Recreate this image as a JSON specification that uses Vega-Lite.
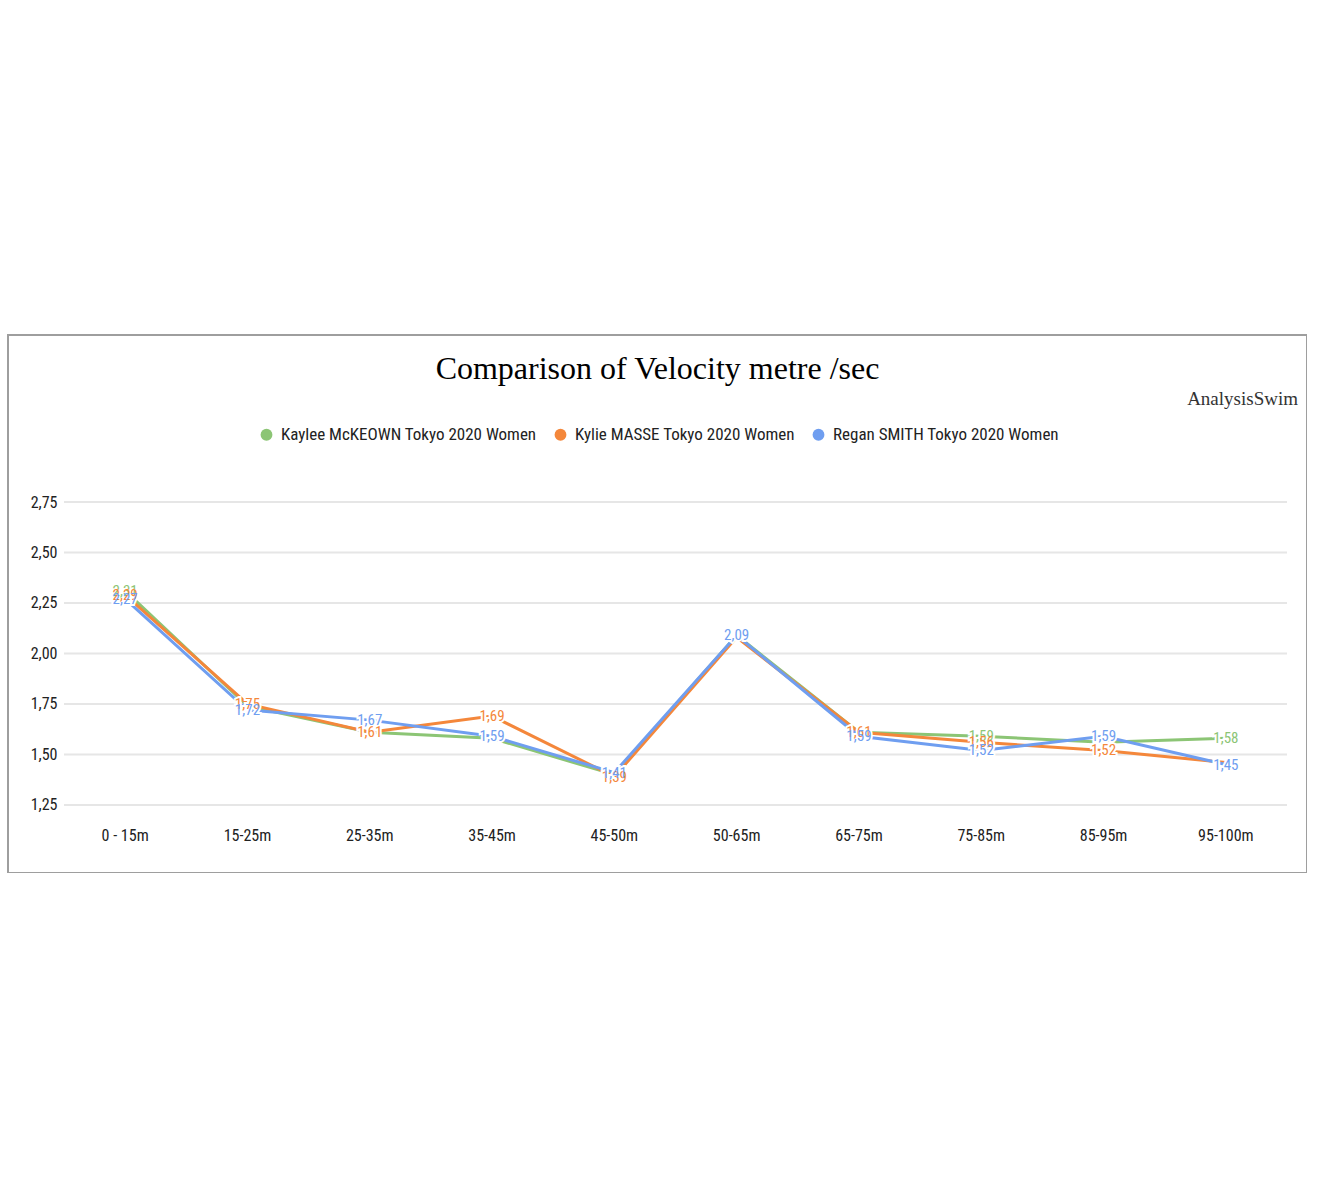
{
  "$schema": "https://vega.github.io/schema/vega-lite/v6.json",
  "description": "Comparison of Velocity metre /sec",
  "width": 1299,
  "height": 538,
  "autosize": "none",
  "padding": {"left": 8, "top": 335, "right": 0, "bottom": 0},
  "background": "white",
  "title": {
    "text": "Comparison of Velocity metre /sec",
    "font": "Liberation Serif",
    "fontSize": 32,
    "fontWeight": "normal",
    "color": "#000000",
    "anchor": "middle",
    "frame": "group",
    "baseline": "alphabetic",
    "offset": -76
  },
  "datasets": {
    "velocity": [
      {"segment": "0 - 15m", "swimmer": "Kaylee McKEOWN Tokyo 2020 Women", "velocity": 2.31, "labelled": true},
      {"segment": "15-25m", "swimmer": "Kaylee McKEOWN Tokyo 2020 Women", "velocity": 1.74, "labelled": false},
      {"segment": "25-35m", "swimmer": "Kaylee McKEOWN Tokyo 2020 Women", "velocity": 1.61, "labelled": false},
      {"segment": "35-45m", "swimmer": "Kaylee McKEOWN Tokyo 2020 Women", "velocity": 1.58, "labelled": false},
      {"segment": "45-50m", "swimmer": "Kaylee McKEOWN Tokyo 2020 Women", "velocity": 1.4, "labelled": false},
      {"segment": "50-65m", "swimmer": "Kaylee McKEOWN Tokyo 2020 Women", "velocity": 2.09, "labelled": false},
      {"segment": "65-75m", "swimmer": "Kaylee McKEOWN Tokyo 2020 Women", "velocity": 1.61, "labelled": false},
      {"segment": "75-85m", "swimmer": "Kaylee McKEOWN Tokyo 2020 Women", "velocity": 1.59, "labelled": true},
      {"segment": "85-95m", "swimmer": "Kaylee McKEOWN Tokyo 2020 Women", "velocity": 1.56, "labelled": false},
      {"segment": "95-100m", "swimmer": "Kaylee McKEOWN Tokyo 2020 Women", "velocity": 1.58, "labelled": true},
      {"segment": "0 - 15m", "swimmer": "Kylie MASSE Tokyo 2020 Women", "velocity": 2.29, "labelled": true},
      {"segment": "15-25m", "swimmer": "Kylie MASSE Tokyo 2020 Women", "velocity": 1.75, "labelled": true},
      {"segment": "25-35m", "swimmer": "Kylie MASSE Tokyo 2020 Women", "velocity": 1.61, "labelled": true},
      {"segment": "35-45m", "swimmer": "Kylie MASSE Tokyo 2020 Women", "velocity": 1.69, "labelled": true},
      {"segment": "45-50m", "swimmer": "Kylie MASSE Tokyo 2020 Women", "velocity": 1.39, "labelled": true},
      {"segment": "50-65m", "swimmer": "Kylie MASSE Tokyo 2020 Women", "velocity": 2.08, "labelled": false},
      {"segment": "65-75m", "swimmer": "Kylie MASSE Tokyo 2020 Women", "velocity": 1.61, "labelled": true},
      {"segment": "75-85m", "swimmer": "Kylie MASSE Tokyo 2020 Women", "velocity": 1.56, "labelled": true},
      {"segment": "85-95m", "swimmer": "Kylie MASSE Tokyo 2020 Women", "velocity": 1.52, "labelled": true},
      {"segment": "95-100m", "swimmer": "Kylie MASSE Tokyo 2020 Women", "velocity": 1.46, "labelled": false},
      {"segment": "0 - 15m", "swimmer": "Regan SMITH Tokyo 2020 Women", "velocity": 2.27, "labelled": true},
      {"segment": "15-25m", "swimmer": "Regan SMITH Tokyo 2020 Women", "velocity": 1.72, "labelled": true},
      {"segment": "25-35m", "swimmer": "Regan SMITH Tokyo 2020 Women", "velocity": 1.67, "labelled": true},
      {"segment": "35-45m", "swimmer": "Regan SMITH Tokyo 2020 Women", "velocity": 1.59, "labelled": true},
      {"segment": "45-50m", "swimmer": "Regan SMITH Tokyo 2020 Women", "velocity": 1.41, "labelled": true},
      {"segment": "50-65m", "swimmer": "Regan SMITH Tokyo 2020 Women", "velocity": 2.09, "labelled": true},
      {"segment": "65-75m", "swimmer": "Regan SMITH Tokyo 2020 Women", "velocity": 1.59, "labelled": true},
      {"segment": "75-85m", "swimmer": "Regan SMITH Tokyo 2020 Women", "velocity": 1.52, "labelled": true},
      {"segment": "85-95m", "swimmer": "Regan SMITH Tokyo 2020 Women", "velocity": 1.59, "labelled": true},
      {"segment": "95-100m", "swimmer": "Regan SMITH Tokyo 2020 Women", "velocity": 1.45, "labelled": true}
    ],
    "grid": [
      {"tick": 1.25}, {"tick": 1.5}, {"tick": 1.75}, {"tick": 2.0},
      {"tick": 2.25}, {"tick": 2.5}, {"tick": 2.75}
    ],
    "brand": [
      {"name": "AnalysisSwim", "segment": "95-100m", "level": 3.23}
    ]
  },
  "layer": [
    {
      "data": {"name": "grid"},
      "mark": {"type": "rule", "color": "#e6e6e6", "strokeWidth": 2},
      "encoding": {
        "x": {"datum": "0 - 15m", "bandPosition": 0, "type": "ordinal"},
        "x2": {"datum": "95-100m", "bandPosition": 1},
        "y": {
          "field": "tick",
          "type": "quantitative",
          "scale": {"domain": [0.913, 3.577], "zero": false, "nice": false},
          "axis": {
            "title": null,
            "values": [1.25, 1.5, 1.75, 2.0, 2.25, 2.5, 2.75],
            "format": ".2f",
            "offset": -51,
            "ticks": false,
            "domain": false,
            "grid": false,
            "labelPadding": 2,
            "labelFont": "'Liberation Sans Narrow', 'Roboto Condensed', 'DejaVu Sans Condensed', sans-serif",
            "labelFontSize": 16,
            "labelColor": "#222222"
          }
        }
      }
    },
    {
      "data": {"name": "velocity"},
      "mark": {"type": "line", "strokeWidth": 3},
      "encoding": {
        "x": {
          "field": "segment",
          "type": "ordinal",
          "bandPosition": 0.5,
          "scale": {
            "type": "band",
            "domain": ["0 - 15m", "15-25m", "25-35m", "35-45m", "45-50m", "50-65m", "65-75m", "75-85m", "85-95m", "95-100m"],
            "range": [56, 1279],
            "paddingInner": 0,
            "paddingOuter": 0
          },
          "axis": {
            "title": null,
            "orient": "bottom",
            "offset": -38,
            "labelAngle": 0,
            "labelAlign": "center",
            "bandPosition": 0.5,
            "ticks": false,
            "domain": false,
            "grid": false,
            "labelPadding": 0,
            "labelFont": "'Liberation Sans Narrow', 'Roboto Condensed', 'DejaVu Sans Condensed', sans-serif",
            "labelFontSize": 16,
            "labelColor": "#222222"
          }
        },
        "y": {
          "field": "velocity",
          "type": "quantitative",
          "title": null
        },
        "color": {
          "field": "swimmer",
          "type": "nominal",
          "scale": {
            "domain": ["Kaylee McKEOWN Tokyo 2020 Women", "Kylie MASSE Tokyo 2020 Women", "Regan SMITH Tokyo 2020 Women"],
            "range": ["#8cc575", "#f4873b", "#6f9ef0"]
          },
          "legend": {
            "title": null,
            "orient": "none",
            "direction": "horizontal",
            "legendX": 250,
            "legendY": 91,
            "symbolType": "circle",
            "symbolSize": 140,
            "symbolStrokeWidth": 0,
            "labelFont": "'Liberation Sans Narrow', 'Roboto Condensed', 'DejaVu Sans Condensed', sans-serif",
            "labelFontSize": 17,
            "labelColor": "#222222",
            "labelOffset": 6,
            "labelLimit": 400,
            "columnPadding": 15
          }
        }
      }
    },
    {
      "data": {"name": "velocity"},
      "transform": [{"filter": "datum.labelled"}],
      "mark": {
        "type": "text",
        "font": "'Liberation Sans Narrow', 'Roboto Condensed', 'DejaVu Sans Condensed', sans-serif",
        "fontSize": 15,
        "stroke": "white",
        "strokeWidth": 4,
        "fill": "white",
        "baseline": "middle"
      },
      "encoding": {
        "x": {"field": "segment", "type": "ordinal", "bandPosition": 0.5},
        "y": {"field": "velocity", "type": "quantitative"},
        "text": {"field": "velocity", "type": "quantitative", "format": ".2f"}
      }
    },
    {
      "data": {"name": "velocity"},
      "transform": [{"filter": "datum.labelled"}],
      "mark": {
        "type": "text",
        "font": "'Liberation Sans Narrow', 'Roboto Condensed', 'DejaVu Sans Condensed', sans-serif",
        "fontSize": 15,
        "baseline": "middle"
      },
      "encoding": {
        "x": {"field": "segment", "type": "ordinal", "bandPosition": 0.5},
        "y": {"field": "velocity", "type": "quantitative"},
        "text": {"field": "velocity", "type": "quantitative", "format": ".2f"},
        "color": {"field": "swimmer", "type": "nominal"}
      }
    },
    {
      "data": {"name": "brand"},
      "mark": {
        "type": "text",
        "font": "Liberation Serif",
        "fontSize": 19,
        "color": "#333333",
        "align": "right",
        "baseline": "alphabetic",
        "dx": 11
      },
      "encoding": {
        "x": {"field": "segment", "type": "ordinal", "bandPosition": 1},
        "y": {"field": "level", "type": "quantitative"},
        "text": {"field": "name"}
      }
    }
  ],
  "config": {
    "locale": {
      "number": {"decimal": ",", "thousands": ".", "grouping": [3], "currency": ["", " €"]}
    },
    "view": {"stroke": "#9e9e9e", "strokeWidth": 2}
  }
}
